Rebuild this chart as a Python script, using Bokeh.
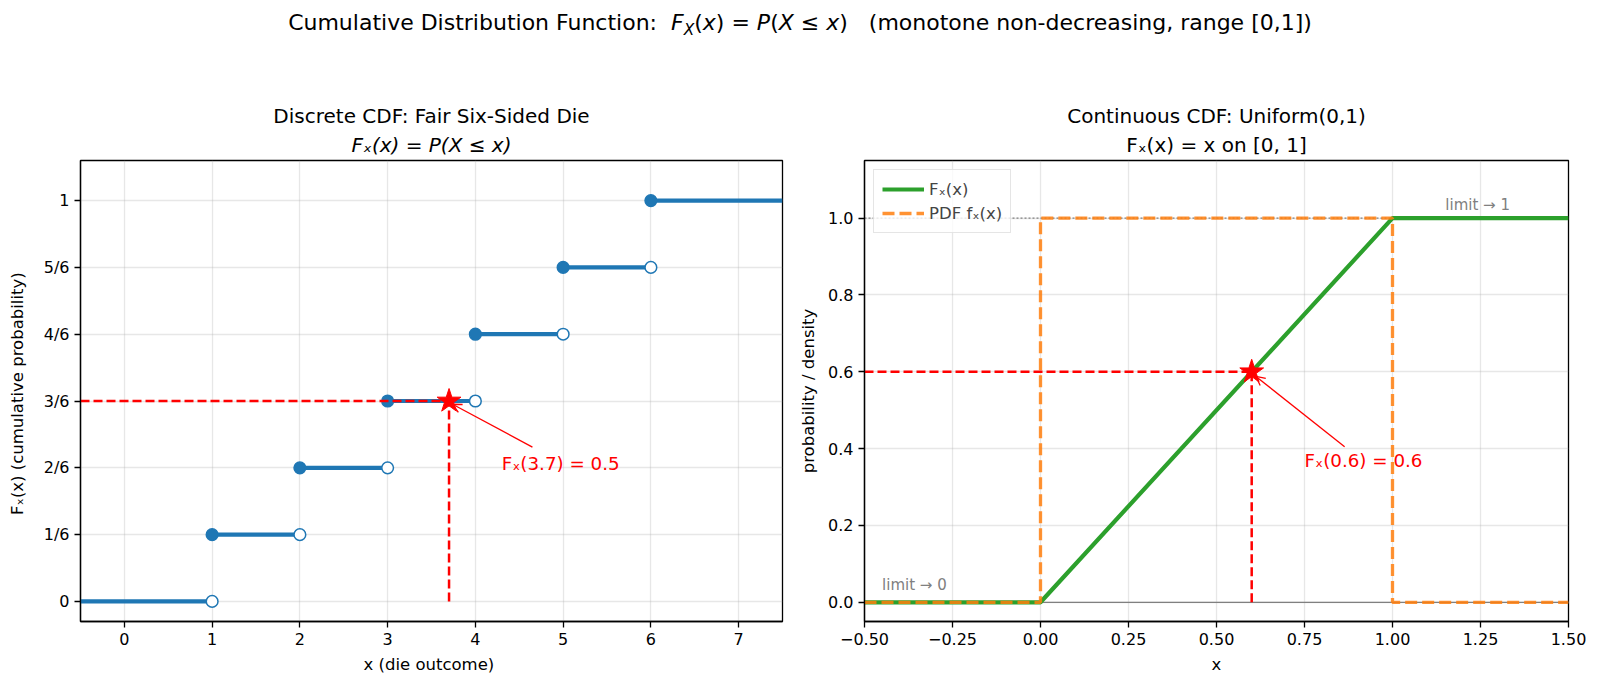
from bokeh.plotting import figure
from bokeh.layouts import column, row
from bokeh.models import (Range1d, FixedTicker, Title, Div, Arrow, OpenHead, ColumnDataSource)
from bokeh.embed import file_html
from bokeh.resources import INLINE
from bokeh.core.properties import value

# ---------------- data ----------------
die_outcomes = [1, 2, 3, 4, 5, 6]
die_cdf_at = [1/6, 2/6, 3/6, 4/6, 5/6, 6/6]          # F(x) at each outcome (closed dots)
die_cdf_before = [0, 1/6, 2/6, 3/6, 4/6, 5/6]        # left limits (open circles)
die_xlim = [-0.5, 7.5]
die_ylim = [-0.05, 1.1]
die_xticks = [0, 1, 2, 3, 4, 5, 6, 7]
die_yticks = [0, 1/6, 2/6, 3/6, 4/6, 5/6, 1]
die_ytick_labels = ["0", "1/6", "2/6", "3/6", "4/6", "5/6", "1"]
die_query_x = 3.7
die_query_F = 0.5
die_annot_text = "Fₓ(3.7) = 0.5"
die_annot_pos = [4.3, 0.344]
die_arrow_start = [4.65, 0.385]

unif_cdf_x = [-0.5, 0.0, 1.0, 1.5]
unif_cdf_y = [0.0, 0.0, 1.0, 1.0]
unif_pdf_x = [-0.5, 0.0, 0.0, 1.0, 1.0, 1.5]
unif_pdf_y = [0.0, 0.0, 1.0, 1.0, 0.0, 0.0]
unif_xlim = [-0.5, 1.5]
unif_ylim = [-0.05, 1.15]
unif_xticks = [-0.5, -0.25, 0.0, 0.25, 0.5, 0.75, 1.0, 1.25, 1.5]
unif_xtick_labels = ["−0.50", "−0.25", "0.00", "0.25", "0.50", "0.75", "1.00", "1.25", "1.50"]
unif_yticks = [0.0, 0.2, 0.4, 0.6, 0.8, 1.0]
unif_ytick_labels = ["0.0", "0.2", "0.4", "0.6", "0.8", "1.0"]
unif_query_x = 0.6
unif_query_F = 0.6
unif_annot_text = "Fₓ(0.6) = 0.6"
unif_annot_pos = [0.75, 0.368]
unif_arrow_start = [0.864, 0.405]
limit_texts = ["limit → 0", "limit → 1"]
limit_pos_x = [-0.45, 1.15]
limit_pos_y = [0.022, 1.012]

FONT = "DejaVu Sans"
BLUE = "#1f77b4"
GREEN = "#2ca02c"
ORANGE = "#ff7f0e"
RED = "#ff0000"


def style(p):
    p.outline_line_color = "black"
    p.outline_line_width = 1.3
    p.background_fill_color = "white"
    for ax in (p.xaxis[0], p.yaxis[0]):
        ax.axis_line_color = "black"
        ax.axis_line_width = 1.3
        ax.major_tick_line_color = "black"
        ax.major_tick_line_width = 1.3
        ax.major_tick_out = 6
        ax.major_tick_in = 0
        ax.minor_tick_line_color = None
        ax.major_label_text_font = FONT
        ax.major_label_text_font_size = "16px"
        ax.major_label_text_color = "black"
        ax.major_label_standoff = 5
        ax.axis_label_text_font = FONT
        ax.axis_label_text_font_size = "16.5px"
        ax.axis_label_text_font_style = "normal"
        ax.axis_label_text_color = "black"
        ax.axis_label_standoff = 7
    for g in (p.xgrid[0], p.ygrid[0]):
        g.grid_line_color = "#b0b0b0"
        g.grid_line_alpha = 0.3
        g.grid_line_width = 1.3


def add_titles(p, line1, line2, style2="normal"):
    p.add_layout(Title(text=line2, align="center", text_font=FONT, text_font_size="20px",
                       text_font_style=style2, text_color="black", standoff=7), "above")
    p.add_layout(Title(text=line1, align="center", text_font=FONT, text_font_size="20px",
                       text_font_style="normal", text_color="black", standoff=0), "above")


# ---------------- left: discrete CDF ----------------
p1 = figure(width=795, height=637, output_backend="svg", toolbar_location=None,
            x_range=Range1d(*die_xlim), y_range=Range1d(*die_ylim),
            min_border_left=80, min_border_right=13, min_border_top=110, min_border_bottom=66,
            title=None)
style(p1)
add_titles(p1, "Discrete CDF: Fair Six-Sided Die", "Fₓ(x) = P(X ≤ x)", "italic")
p1.xaxis.ticker = FixedTicker(ticks=die_xticks)
p1.yaxis.ticker = FixedTicker(ticks=die_yticks)
p1.yaxis.major_label_overrides = {t: lab for t, lab in zip(die_yticks, die_ytick_labels)}
p1.xaxis.axis_label = "x  (die outcome)"
p1.yaxis.axis_label = "Fₓ(x)  (cumulative probability)"
p1.yaxis.axis_label_standoff = 14

seg = ColumnDataSource(dict(
    x0=[die_xlim[0]] + die_outcomes,
    x1=die_outcomes + [die_xlim[1]],
    y=[0] + die_cdf_at,
))
p1.segment(x0="x0", y0="y", x1="x1", y1="y", source=seg, line_color=BLUE, line_width=4.2)
p1.scatter(die_outcomes, die_cdf_at, size=11.7, marker="circle", fill_color=BLUE,
           line_color=BLUE, line_width=1.5)
p1.scatter(die_outcomes, die_cdf_before, size=11.7, marker="circle", fill_color="white",
           line_color=BLUE, line_width=1.5)
p1.line([die_xlim[0], die_query_x], [die_query_F, die_query_F], line_color=RED,
        line_width=2.5, line_dash="9 4")
p1.line([die_query_x, die_query_x], [0, die_query_F], line_color=RED,
        line_width=2.5, line_dash="9 4")
p1.scatter([die_query_x], [die_query_F], marker="star", size=25, fill_color=RED, line_color=RED)
p1.add_layout(Arrow(end=OpenHead(size=9, line_color=RED, line_width=1.3),
                    x_start=die_arrow_start[0], y_start=die_arrow_start[1],
                    x_end=die_query_x + 0.04, y_end=die_query_F - 0.008,
                    line_color=RED, line_width=1.3))
p1.text([die_annot_pos[0]], [die_annot_pos[1]], text=[die_annot_text], text_color=RED,
        text_font=value(FONT), text_font_size="18.3px", text_align="left", text_baseline="middle")

# ---------------- right: continuous CDF ----------------
p2 = figure(width=805, height=637, output_backend="svg", toolbar_location=None,
            x_range=Range1d(*unif_xlim), y_range=Range1d(*unif_ylim),
            min_border_left=69, min_border_right=32, min_border_top=110, min_border_bottom=66,
            title=None)
style(p2)
add_titles(p2, "Continuous CDF: Uniform(0,1)", "Fₓ(x) = x on [0, 1]")
p2.xaxis.ticker = FixedTicker(ticks=unif_xticks)
p2.yaxis.ticker = FixedTicker(ticks=unif_yticks)
p2.xaxis.major_label_overrides = {t: lab for t, lab in zip(unif_xticks, unif_xtick_labels)}
p2.yaxis.major_label_overrides = {t: lab for t, lab in zip(unif_yticks, unif_ytick_labels)}
p2.xaxis.axis_label = "x"
p2.yaxis.axis_label = "probability / density"

p2.line(unif_xlim, [0, 0], line_color="gray", line_width=1.3)
p2.line(unif_xlim, [1, 1], line_color="gray", line_width=1.3, line_dash="2 2")
p2.line(unif_cdf_x, unif_cdf_y, line_color=GREEN, line_width=4.2, legend_label="Fₓ(x)")
p2.line(unif_pdf_x, unif_pdf_y, line_color=ORANGE, line_width=3.3, line_dash="12 5",
        line_alpha=0.85, legend_label="PDF fₓ(x)")
p2.line([unif_xlim[0], unif_query_x], [unif_query_F, unif_query_F], line_color=RED,
        line_width=2.5, line_dash="9 4")
p2.line([unif_query_x, unif_query_x], [0, unif_query_F], line_color=RED,
        line_width=2.5, line_dash="9 4")
p2.scatter([unif_query_x], [unif_query_F], marker="star", size=25, fill_color=RED, line_color=RED)
p2.add_layout(Arrow(end=OpenHead(size=9, line_color=RED, line_width=1.3),
                    x_start=unif_arrow_start[0], y_start=unif_arrow_start[1],
                    x_end=unif_query_x + 0.012, y_end=unif_query_F - 0.012,
                    line_color=RED, line_width=1.3))
p2.text([unif_annot_pos[0]], [unif_annot_pos[1]], text=[unif_annot_text], text_color=RED,
        text_font=value(FONT), text_font_size="18.3px", text_align="left", text_baseline="middle")
p2.text(limit_pos_x, limit_pos_y, text=limit_texts, text_color="gray",
        text_font=value(FONT), text_font_size="15px", text_align="left", text_baseline="bottom")

lg = p2.legend[0]
lg.location = "top_left"
lg.margin = 9
lg.padding = 8
lg.spacing = 2
lg.glyph_width = 42
lg.glyph_height = 22
lg.label_text_font = FONT
lg.label_text_font_size = "16.5px"
lg.border_line_color = "#cccccc"
lg.border_line_width = 1.3
lg.background_fill_alpha = 0.8

sup = Div(text=("<div style=\"width:1600px;text-align:center;font-family:'DejaVu Sans';"
                "font-size:22px;padding-top:9px;color:#000;white-space:pre;line-height:27px\">"
                "Cumulative Distribution Function:  <i>F</i><sub style='font-size:70%;line-height:0'><i>X</i></sub>(<i>x</i>) = "
                "<i>P</i>(<i>X</i> ≤ <i>x</i>)   (monotone non-decreasing, range [0,1])</div>"),
          width=1600, height=50, margin=0)

layout = column(sup, row(p1, p2, spacing=0), spacing=0)
open("out.html", "w").write(file_html(layout, INLINE))
